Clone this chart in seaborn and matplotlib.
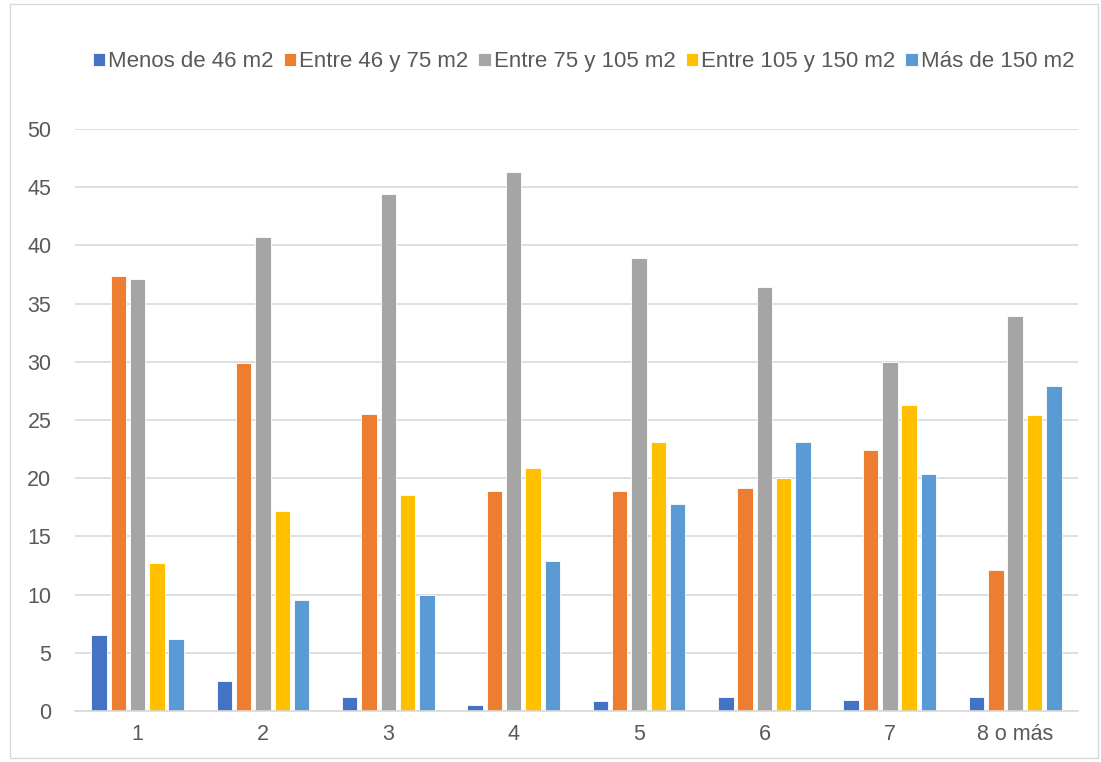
import matplotlib
matplotlib.use("Agg")
import matplotlib.pyplot as plt
from matplotlib.patches import Rectangle
import seaborn as sns
import pandas as pd

# data
categories = ["1", "2", "3", "4", "5", "6", "7", "8 o más"]
series_names = ["Menos de 46 m2", "Entre 46 y 75 m2", "Entre 75 y 105 m2",
                "Entre 105 y 150 m2", "Más de 150 m2"]
menos_46 = [6.5, 2.6, 1.2, 0.55, 0.85, 1.2, 0.95, 1.2]
entre_46_75 = [37.4, 29.9, 25.5, 18.9, 18.9, 19.2, 22.4, 12.1]
entre_75_105 = [37.1, 40.7, 44.4, 46.3, 38.9, 36.4, 30.0, 33.9]
entre_105_150 = [12.7, 17.2, 18.6, 20.9, 23.1, 20.0, 26.3, 25.4]
mas_150 = [6.2, 9.5, 10.0, 12.9, 17.8, 23.1, 20.4, 27.9]
colors = ["#4472C4", "#ED7D31", "#A5A5A5", "#FFC000", "#5B9BD5"]

values = [menos_46, entre_46_75, entre_75_105, entre_105_150, mas_150]
rows = []
for name, vals in zip(series_names, values):
    for cat, v in zip(categories, vals):
        rows.append({"cat": cat, "serie": name, "valor": v})
df = pd.DataFrame(rows)

sns.set_theme(style="white")
plt.rcParams['font.family'] = ['Liberation Sans', 'DejaVu Sans']

fig = plt.figure(figsize=(11.01, 7.62), dpi=100)
ax = fig.add_axes([0.068, 0.0669, 0.911, 0.7638])

sns.barplot(data=df, x="cat", y="valor", hue="serie", order=categories,
            hue_order=series_names, palette=colors, saturation=1,
            width=0.77, gap=0.2, edgecolor="white", linewidth=0.6, ax=ax)

ax.set_ylim(0, 50)
ax.set_yticks(range(0, 51, 5))
ax.set_xlim(-0.5, len(categories) - 0.5)
ax.yaxis.grid(True, color="#D9D9D9", linewidth=1.2)
ax.set_axisbelow(True)
for side in ["top", "right", "left"]:
    ax.spines[side].set_visible(False)
ax.spines["bottom"].set_color("#D9D9D9")
ax.spines["bottom"].set_linewidth(1.2)
ax.tick_params(axis="both", length=0, labelsize=15.5, colors="#595959")
ax.tick_params(axis="x", pad=9)
ax.tick_params(axis="y", pad=17)
ax.set_xlabel("")
ax.set_ylabel("")

handles, labels = ax.get_legend_handles_labels()
ax.legend_.remove()
fig.legend(handles, labels, loc="center", bbox_to_anchor=(0.530, 0.919), ncol=5,
           frameon=False, fontsize=16, handlelength=0.55, handleheight=0.55,
           handletextpad=0.15, columnspacing=0.45, labelcolor="#595959")

# light chart border like the reference
fig.patches.append(Rectangle((0.009, 0.005), 0.988, 0.99, transform=fig.transFigure,
                             fill=False, edgecolor="#D9D9D9", linewidth=1))

fig.savefig("out.png", dpi=100)
